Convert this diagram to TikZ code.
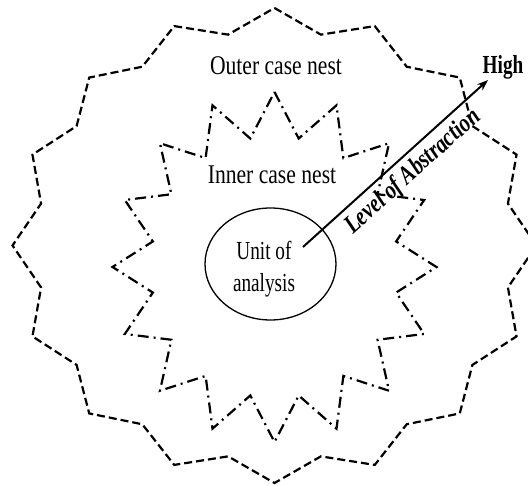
\documentclass[tikz,border=0pt]{standalone}
\usepackage{fontspec}
\setmainfont{Liberation Serif}[FakeStretch=0.74]
\newfontfamily\widerserif{Liberation Serif}[FakeStretch=0.8]
\usetikzlibrary{arrows.meta, shapes.geometric}

\tikzset{
  outernest/.style={line width=2.2pt, dash pattern=on 8pt off 4pt, line join=miter},
  innernest/.style={line width=2.2pt, dash pattern=on 11pt off 5pt on 2pt off 5pt, line join=miter},
  label/.style={inner sep=0pt, font=\fontsize{26}{32}\selectfont},
  nestlabel/.style={inner sep=0pt, font=\fontsize{27}{32}\selectfont\widerserif},
  unitbox/.style={draw, line width=1.3pt, ellipse, minimum width=131pt, minimum height=112pt, inner sep=0pt},
  axis/.style={line width=2pt, -{Stealth[length=11pt, width=8pt]}}
}

\begin{document}
\begin{tikzpicture}[x=1pt, y=-1pt]
  \useasboundingbox (0,0) rectangle (528,486);
  \clip (0,0) rectangle (528,486);

  % outer nest: 16-point star, dashed
  \draw[outernest] plot[samples at={0,...,31}, variable=\k]
    ({274.5 + (262 - 24*mod(\k,2))*sin(\k*11.25)},
     {245.5 - (237.5 - 22.5*mod(\k,2))*cos(\k*11.25)}) -- cycle;

  % inner nest: 16-point star, dash-dotted
  \draw[innernest] plot[samples at={0,...,31}, variable=\k]
    ({274.5 + (162 - 38*mod(\k,2))*sin(\k*11.25)},
     {267 - (175 - 44*mod(\k,2))*cos(\k*11.25)}) -- cycle;

  % unit of analysis
  \node[unitbox] (unit) at (270.5,264) {};
  \node[label, align=center] (unittext) at (264,269) {Unit of\\analysis};

  \node[nestlabel] (outer) at (276,66) {Outer case nest};
  \node[nestlabel] (inner) at (272,175) {Inner case nest};
  \node[label, font=\fontsize{26}{30}\selectfont\bfseries] (high) at (503,67) {High};

  % abstraction axis
  \coordinate (axisstart) at (303,247);
  \coordinate (axisend) at (488,80);
  \draw[axis] (axisstart) -- (axisend)
    node[pos=0.53, sloped, below=5pt, inner sep=0pt,
         font=\fontsize{26}{30}\selectfont\widerserif\bfseries\itshape] (level) {Level of Abstraction};
\end{tikzpicture}
\end{document}
